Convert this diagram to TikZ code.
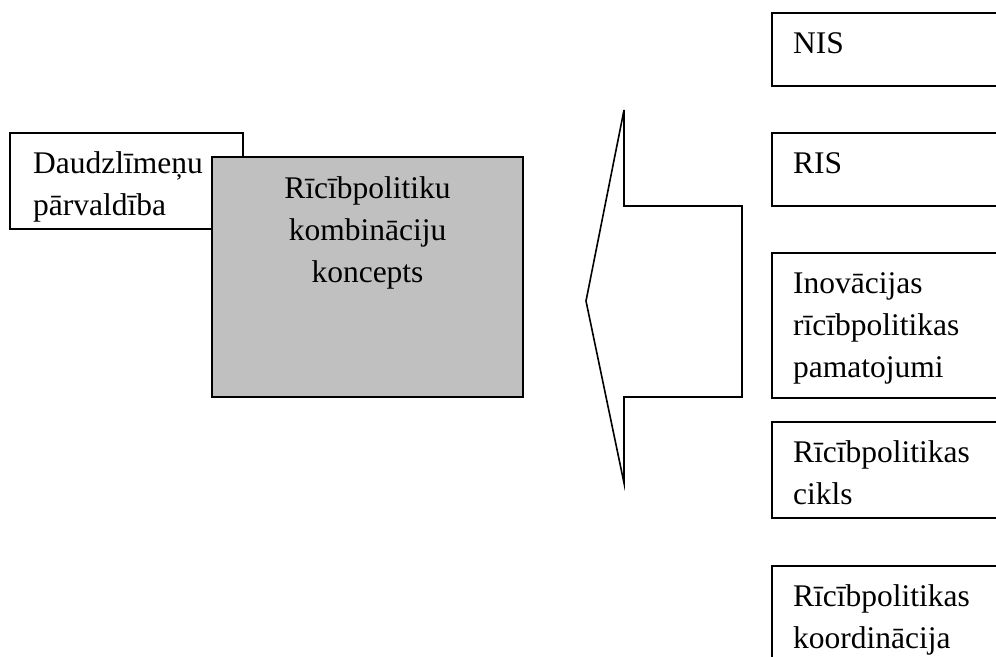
\documentclass[tikz,border=0pt]{standalone}
\usepackage{fontspec}
\setmainfont{Liberation Serif}
\newcommand\mlL[1]{\begin{tabular}[t]{@{}l@{}}#1\end{tabular}}
\newcommand\mlC[1]{\begin{tabular}[t]{@{}c@{}}#1\end{tabular}}
\begin{document}
\begin{tikzpicture}[x=1pt,y=-1pt,
  box/.style={draw=black,line width=1.6pt,fill=white,inner sep=0pt},
  txt/.style={inner sep=0pt,anchor=base west,font=\fontsize{31.5}{42}\selectfont},
  ctxt/.style={inner sep=0pt,anchor=base,font=\fontsize{31.5}{42}\selectfont},
  arrowshape/.style={draw=black,line width=1.6pt,line join=miter}]
\useasboundingbox (0,0) rectangle (996,656);
\clip (0,0) rectangle (996,656);
% left box
\draw[box] (10,133) rectangle (243,229);
\node[txt] (dl) at (33,173) {\mlL{Daudzlīmeņu\\pārvaldība}};
% gray box
\draw[box,fill={rgb,255:red,192;green,192;blue,192}] (212,157) rectangle (523,397);
\node[ctxt] (rk) at (367.5,198) {\mlC{Rīcībpolitiku\\kombināciju\\koncepts}};
% arrow
\draw[arrowshape] (624,110) -- (586,301) -- (624,483) -- (624,397) -- (742,397) -- (742,206) -- (624,206) -- cycle;
% right boxes
\draw[box] (772,13) rectangle (1010,86);
\node[txt] (nis) at (793,53) {NIS};
\draw[box] (772,133) rectangle (1010,206);
\node[txt] (ris) at (793,173) {RIS};
\draw[box] (772,253) rectangle (1010,398);
\node[txt] (inov) at (793,293) {\mlL{Inovācijas\\rīcībpolitikas\\pamatojumi}};
\draw[box] (772,422) rectangle (1010,518);
\node[txt] (cikls) at (793,462) {\mlL{Rīcībpolitikas\\cikls}};
\draw[box] (772,566) rectangle (1010,700);
\node[txt] (koord) at (793,606) {\mlL{Rīcībpolitikas\\koordinācija}};
\end{tikzpicture}
\end{document}
